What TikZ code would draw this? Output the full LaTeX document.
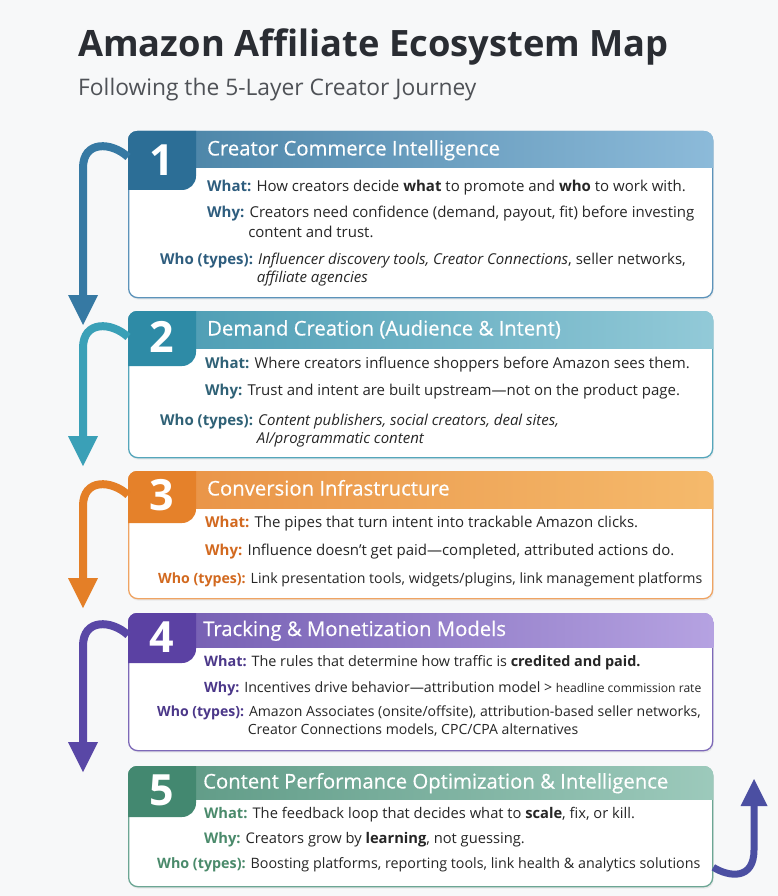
\documentclass[tikz,border=0pt]{standalone}
\usepackage{fontspec}
\setmainfont{Open Sans}
\newfontfamily\headfont{Open Sans}[FakeBold=0.4]
\usetikzlibrary{arrows.meta}
\usetikzlibrary{shadows}

\definecolor{bgcol}{HTML}{F7F8F9}
\definecolor{inkdark}{HTML}{2A2D33}
\definecolor{inkgrey}{HTML}{4F5257}
\definecolor{bodyink}{HTML}{262626}
\definecolor{c1dark}{HTML}{2C6E96}
\definecolor{c1lite}{HTML}{8DBBDA}
\definecolor{c1bd}{HTML}{5C93BA}
\definecolor{c1lab}{HTML}{2E5D7E}
\definecolor{c1arrow}{HTML}{3679A3}
\definecolor{c2dark}{HTML}{2E8BA6}
\definecolor{c2lite}{HTML}{93CAD8}
\definecolor{c2bd}{HTML}{55A6BB}
\definecolor{c2lab}{HTML}{2F6176}
\definecolor{c2arrow}{HTML}{3AA0B7}
\definecolor{c3dark}{HTML}{E5812A}
\definecolor{c3lite}{HTML}{F5BA6C}
\definecolor{c3bd}{HTML}{EFA463}
\definecolor{c3lab}{HTML}{D2691F}
\definecolor{c3arrow}{HTML}{E47F27}
\definecolor{c4dark}{HTML}{5B41A3}
\definecolor{c4lite}{HTML}{B6A3E2}
\definecolor{c4bd}{HTML}{7D69B8}
\definecolor{c4lab}{HTML}{4B3789}
\definecolor{c4arrow}{HTML}{5947A6}
\definecolor{c5dark}{HTML}{438870}
\definecolor{c5lite}{HTML}{9DCABC}
\definecolor{c5bd}{HTML}{6CA694}
\definecolor{c5lab}{HTML}{4A8A6B}
\definecolor{c5arrow}{HTML}{4B4FA2}

\newcommand{\lbl}[2]{\textcolor{#1}{\bfseries #2}}

\begin{document}
\begin{tikzpicture}[x=1pt, y=-1pt,
    layer/.style={draw, line width=1.3pt, fill=white, rounded corners=9pt,
      minimum width=584pt, inner sep=0pt, anchor=north west,
      drop shadow={shadow xshift=1pt, shadow yshift=-2pt, opacity=0.12}},
    head/.style={anchor=base west, inner sep=0pt, text=white,
      font=\headfont\fontsize{20.3}{23}\selectfont},
    num/.style={inner sep=0pt, text=white, font=\bfseries\fontsize{43}{46}\selectfont},
    line/.style={anchor=base west, inner sep=0pt, text=bodyink,
      font=\fontsize{15}{18}\selectfont},
    flow/.style={line width=8pt, -{Triangle[length=30pt, width=30pt, line width=0pt]}}]

    % Page
    \useasboundingbox (0,0) rectangle (778,896);
    \fill[bgcol] (0,0) rectangle (778,896);

    % Title
    \node[anchor=base west, inner sep=0pt, text=inkdark,
      font=\bfseries\fontsize{36.3}{40}\selectfont] (maptitle) at (78,57) {Amazon Affiliate Ecosystem Map};
    \node[anchor=base west, inner sep=0pt, text=inkgrey,
      font=\fontsize{22.8}{26}\selectfont] (subtitle) at (78,96) {Following the 5-Layer Creator Journey};

    % Layer boxes
    \foreach \n/\ytop/\hb/\tb/\ybot/\ny/\tx/\ttl/\cd/\cl/\cb
      [evaluate=\ybot as \hgt using \ybot-\ytop] in {
        1/131/168/190/297/160/207/Creator Commerce Intelligence/c1dark/c1lite/c1bd,
        2/311/348/366/457/337/207/Demand Creation (Audience \& Intent)/c2dark/c2lite/c2bd,
        3/471/508/523/598/495/207/Conversion Infrastructure/c3dark/c3lite/c3bd,
        4/613/647/663/750/637/203/Tracking \& Monetization Models/c4dark/c4lite/c4bd,
        5/766/799/817/886/790/203/Content Performance Optimization \& Intelligence/c5dark/c5lite/c5bd}
    {
        \node[layer, draw=\cb, minimum height=\hgt pt] (layer\n) at (128,\ytop) {};
        \begin{scope}
            \clip[rounded corners=9pt] (layer\n.north west) rectangle (layer\n.south east);
            \shade[left color=\cd!88!white, right color=\cl] (120,\ytop-5) rectangle (720,\hb);
            \fill[\cd, rounded corners=14pt] (100,\ytop-20) rectangle (196,\tb);
        \end{scope}
        \node[num] (num\n) at (162,\ny) {\n};
        \node[head] (title\n) at (\tx,{(\ytop+\hb)/2+6}) {\ttl};
    }

    % Layer 1 text
    \node[line] (what1) at (207,191) {\lbl{c1lab}{What:} How creators decide \textbf{what} to promote and \textbf{who} to work with.};
    \node[line] (why1) at (207,217) {\lbl{c1lab}{Why:} Creators need confidence (demand, payout, fit) before investing};
    \node[line] (why1b) at (207,237) {\phantom{\bfseries Why:} content and trust.};
    \node[line] (who1) at (160,264) {\lbl{c1lab}{Who (types):} \textit{Influencer discovery tools, Creator Connections}, seller networks,};
    \node[line] (who1b) at (160,282) {\phantom{\bfseries Who (types):} \textit{affiliate agencies}};

    % Layer 2 text
    \node[line] (what2) at (205,368) {\lbl{c2lab}{What:} Where creators influence shoppers before Amazon sees them.};
    \node[line] (why2) at (205,395) {\lbl{c2lab}{Why:} Trust and intent are built upstream—not on the product page.};
    \node[line] (who2) at (160,425) {\lbl{c2lab}{Who (types):} \textit{Content publishers, social creators, deal sites,}};
    \node[line] (who2b) at (160,443) {\phantom{\bfseries Who (types):} \textit{AI/programmatic content}};

    % Layer 3 text
    \node[line] (what3) at (205,527) {\lbl{c3lab}{What:} The pipes that turn intent into trackable Amazon clicks.};
    \node[line] (why3) at (205,555) {\lbl{c3lab}{Why:} Influence doesn’t get paid—completed, attributed actions do.};
    \node[line, font=\fontsize{14.15}{17}\selectfont] (who3) at (158,583) {\lbl{c3lab}{Who (types):} Link presentation tools, widgets/plugins, link management platforms};

    % Layer 4 text
    \node[line, font=\fontsize{14.4}{17}\selectfont] (what4) at (204,666) {\lbl{c4lab}{What:} The rules that determine how traffic is \textbf{credited and paid.}};
    \node[line, font=\fontsize{14.2}{17}\selectfont] (why4) at (204,692) {\lbl{c4lab}{Why:} Incentives drive behavior—attribution model > {\fontsize{12.1}{14}\selectfont headline commission rate}};
    \node[line, font=\fontsize{14.05}{17}\selectfont] (who4) at (157,716) {\lbl{c4lab}{Who (types):} Amazon Associates (onsite/offsite), attribution-based seller networks,};
    \node[line, font=\fontsize{14.05}{17}\selectfont] (who4b) at (157,734) {\phantom{\bfseries Who (types):} Creator Connections models, CPC/CPA alternatives};

    % Layer 5 text
    \node[line, font=\fontsize{14.7}{17}\selectfont] (what5) at (204,818) {\lbl{c5lab}{What:} The feedback loop that decides what to \textbf{scale}, fix, or kill.};
    \node[line, font=\fontsize{14.7}{17}\selectfont] (why5) at (204,843) {\lbl{c5lab}{Why:} Creators grow by \textbf{learning}, not guessing.};
    \node[line, font=\fontsize{14.3}{17}\selectfont] (who5) at (157,868) {\lbl{c5lab}{Who (types):} Boosting platforms, reporting tools, link health \& analytics solutions};

    % Journey arrows on the left
    \coordinate (tip1) at (83,325);
    \coordinate (tip2) at (83,466);
    \coordinate (tip3) at (83,608);
    \coordinate (tip4) at (83,772);
    \draw[flow, c1arrow] ([yshift=-26pt]layer1.north west) .. controls +(-16,-15) and (83,140) .. (83,168) -- (tip1);
    \draw[flow, c2arrow] ([yshift=-26pt]layer2.north west) .. controls +(-16,-15) and (83,320) .. (83,348) -- (tip2);
    \draw[flow, c3arrow] ([yshift=-24pt]layer3.north west) .. controls +(-16,-15) and (83,478) .. (83,506) -- (tip3);
    \draw[flow, c4arrow] ([yshift=-22pt]layer4.north west) .. controls +(-16,-15) and (83,618) .. (83,646) -- (tip4);

    % Feedback arrow on the right
    \coordinate (tip5) at (754,779);
    \draw[c5arrow, line width=7pt, -{Triangle[length=27pt, width=27pt, line width=0pt]}]
        ([yshift=20pt]layer5.south east) .. controls +(16,10) and (754,880) .. (754,850) -- (tip5);
\end{tikzpicture}
\end{document}
